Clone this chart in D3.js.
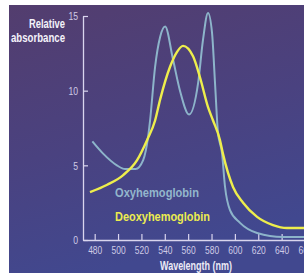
<!DOCTYPE html>
<html>
<head>
<meta charset="utf-8">
<script src="https://cdn.jsdelivr.net/npm/d3@7"></script>
<style>
  body { margin: 0; background: #fff; }
  svg { display: block; }
</style>
</head>
<body>
<div id="chart"></div>
<script>
// wavelength ticks and absorbance ticks
const xTicks = [480, 500, 520, 540, 560, 580, 600, 620, 640, 660]
const yTicks = [0, 5, 10, 15]

// Oxyhemoglobin curve
const oxyNm  = [478, 487, 499, 506, 515, 521.5, 525.7, 527.4, 531.7, 536, 540.3, 547, 553, 560.8, 568.5, 572.7, 577, 580.4, 583, 585.5, 589, 591.5, 595.8, 604.4, 619, 641, 660]
const oxyAbs = [6.6, 5.8, 5.0, 4.75, 4.75, 5.35, 6.9, 8.0, 11.6, 13.6, 14.3, 12.1, 10.0, 8.4, 10.5, 13.4, 15.2, 13.9, 10.5, 7.2, 5.8, 3.6, 2.0, 1.15, 0.47, 0.2, 0.2]

// Deoxyhemoglobin curve
const deoxyNm  = [476, 490.7, 504.4, 516.3, 524.9, 531.7, 536, 544.5, 550.5, 555.6, 564.2, 570.1, 577, 581.3, 587.2, 589.7, 598.4, 607, 619, 632.6, 644.5, 660]
const deoxyAbs = [3.2, 3.7, 4.35, 5.35, 6.7, 8.0, 9.4, 11.6, 12.6, 13.0, 12.3, 10.9, 8.9, 8.0, 6.7, 5.8, 3.55, 2.5, 1.55, 1.0, 0.8, 0.8]

const width = 304
const height = 273

const svg = d3.select("#chart")
  .append("svg")
    .attr("width", width)
    .attr("height", height)

const defs = svg.append("defs")
const grad = defs.append("linearGradient")
    .attr("id", "bg")
    .attr("x1", 0).attr("y1", 0)
    .attr("x2", 0.3).attr("y2", 1)
grad.append("stop").attr("offset", "0%").attr("stop-color", "#533d6e")
grad.append("stop").attr("offset", "55%").attr("stop-color", "#4a4280")
grad.append("stop").attr("offset", "100%").attr("stop-color", "#41488f")

svg.append("rect")
    .attr("x", 9)
    .attr("y", 5)
    .attr("width", width - 9)
    .attr("height", height - 5)
    .attr("fill", "url(#bg)")

var x = d3.scaleLinear()
  .domain([470, 660])
  .range([83, 305])

var y = d3.scaleLinear()
  .domain([0, 15])
  .range([240, 16])

const axisColor = "#d9d5ee"
const font = "'Liberation Sans', Arial, sans-serif"

// squeeze text horizontally, the original uses a condensed face
function narrow(sel, perChar) {
  sel.attr("lengthAdjust", "spacingAndGlyphs")
    .attr("textLength", function() { return this.textContent.length * perChar })
}

// x axis, ticks pointing up
var xAxis = svg.append("g")
  .attr("transform", "translate(0," + y(0) + ")")
  .call(d3.axisBottom(x).tickValues(xTicks).tickSize(-6).tickSizeOuter(0).tickPadding(6))
xAxis.select(".domain").attr("stroke", axisColor).attr("stroke-width", 1.3)
xAxis.selectAll(".tick line").attr("stroke", axisColor).attr("stroke-width", 1.2)
xAxis.selectAll(".tick text")
  .attr("fill", "#cfcbe6")
  .attr("font-family", font)
  .attr("font-size", 11.5)
  .call(narrow, 4.7)

// y axis, ticks pointing right
var yAxis = svg.append("g")
  .attr("transform", "translate(" + x(470) + ",0)")
  .call(d3.axisLeft(y).tickValues(yTicks).tickSize(-5).tickSizeOuter(0).tickPadding(5))
yAxis.select(".domain").attr("stroke", axisColor).attr("stroke-width", 1.3)
yAxis.selectAll(".tick line").attr("stroke", axisColor).attr("stroke-width", 1.2)
yAxis.selectAll(".tick text")
  .attr("fill", "#cfcbe6")
  .attr("font-family", font)
  .attr("font-size", 11.5)
  .call(narrow, 4.8)

// curves
const line = d3.line()
  .x(function(d) { return x(d[0]) })
  .y(function(d) { return y(d[1]) })
  .curve(d3.curveMonotoneX)

svg.append("path")
  .datum(d3.zip(oxyNm, oxyAbs))
  .attr("fill", "none")
  .attr("stroke", "#8db4ca")
  .attr("stroke-width", 2)
  .attr("d", line)

svg.append("path")
  .datum(d3.zip(deoxyNm, deoxyAbs))
  .attr("fill", "none")
  .attr("stroke", "#eeee4c")
  .attr("stroke-width", 2.4)
  .attr("d", line)

// labels
function label(txt, px, py, size, color, len, anchor) {
  svg.append("text")
    .attr("x", px).attr("y", py)
    .attr("text-anchor", anchor || "start")
    .attr("font-family", font).attr("font-weight", "bold").attr("font-size", size)
    .attr("fill", color)
    .attr("lengthAdjust", "spacingAndGlyphs")
    .attr("textLength", len)
    .text(txt)
}

label("Relative", 65, 28, 12.5, "#f4f2fa", 36, "end")
label("absorbance", 65, 42, 12.5, "#f4f2fa", 54, "end")
label("Oxyhemoglobin", 115, 197, 13, "#93b6cc", 84)
label("Deoxyhemoglobin", 115, 221, 13, "#ecec50", 95)
label("Wavelength (nm)", 196, 270, 12.5, "#eceaf6", 72, "middle")
</script>
</body>
</html>
